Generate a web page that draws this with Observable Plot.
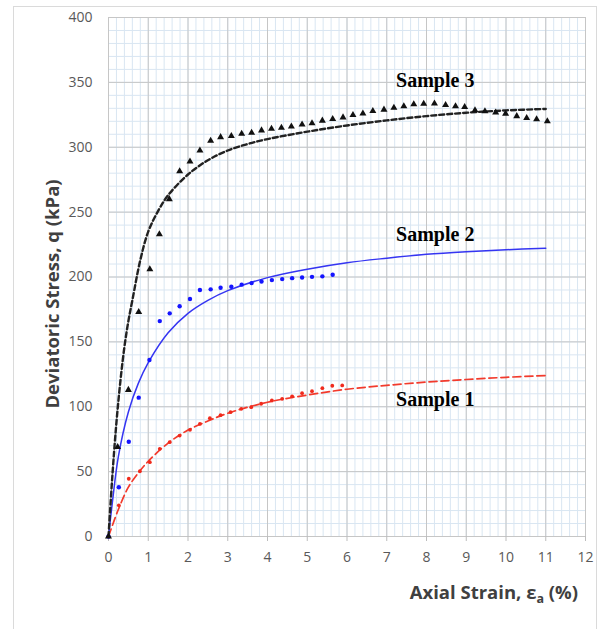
<!DOCTYPE html>
<html><head><meta charset="utf-8">
<script src="https://cdn.jsdelivr.net/npm/d3@7"></script>
<script src="https://cdn.jsdelivr.net/npm/@observablehq/plot@0.6"></script>
<style>
body{margin:0;background:#fff;}
#wrap{position:relative;width:599px;height:629px;overflow:hidden;}
#border{position:absolute;left:13px;top:6px;width:584px;height:660px;border:1.5px solid #dadada;box-sizing:border-box;}
#chart{position:absolute;left:0;top:0;}
</style></head><body><div id="wrap"><div id="border"></div><div id="chart"></div></div>
<script>
// Sample 1 (red) measured points
const s1Strain = [0,0.26,0.51,0.79,1.04,1.29,1.54,1.79,2.05,2.3,2.55,2.82,3.07,3.34,3.59,3.84,4.11,4.37,4.62,4.87,5.12,5.38,5.63,5.88];
const s1Stress = [0,24,44.5,50.3,57.3,67.6,72.7,77.8,82.2,86.8,91.2,93.5,95.8,98.4,99.7,102.3,104.8,106.1,108,110.5,112,114.3,116.2,116.4];
// Sample 1 fitted curve
const f1Strain = [0,0.25,0.5,0.75,1,1.5,2,2.5,3,4,5,6,7,8,9,10,11];
const f1Stress = [0,21,38,49,58,72,82,89,95,103.5,109,113.5,116.5,119,121,122.7,124];
// Sample 2 (blue) measured points
const s2Strain = [0,0.26,0.51,0.76,1.03,1.29,1.54,1.79,2.05,2.3,2.57,2.82,3.09,3.35,3.6,3.85,4.11,4.37,4.62,4.87,5.12,5.38,5.64];
const s2Stress = [0,38,73,107,136,166,172,177.5,183,190,190.5,191.7,192.5,194.1,195.3,196.5,197.6,198.4,199.1,199.6,200.1,200.5,201.7];
// Sample 2 fitted curve
const f2Strain = [0,0.1,0.25,0.5,0.75,1,1.5,2,2.5,3,4,5,6,7,8,9,10,11];
const f2Stress = [0,27,62,96,118,134,157,172,182,189.5,199.5,206,211,214.5,217.5,219.5,221,222.2];
// Sample 3 (black) measured points
const s3Strain = [0,0.23,0.5,0.76,1.04,1.28,1.53,1.79,2.05,2.3,2.57,2.82,3.09,3.35,3.6,3.85,4.1,4.35,4.6,4.87,5.12,5.38,5.64,5.9,6.15,6.4,6.65,6.93,7.18,7.43,7.68,7.93,8.2,8.48,8.73,8.96,9.22,9.47,9.74,9.99,10.27,10.52,10.77,11.04];
const s3Stress = [0,69,113,173,206,233,260,281.5,289,297.5,305,307.8,308.6,310.4,311.2,313,314.2,315,316,317.5,318.5,320.5,321.8,323,324.9,326,328,329,330.5,331.6,333.2,333.5,333.7,332.6,331.6,331,328.5,327.7,326.8,325.9,324,322.6,321.6,320];
// Sample 3 fitted curve
const f3Strain = [0,0.1,0.2,0.3,0.4,0.5,0.6,0.8,1,1.25,1.5,2,2.5,3,3.5,4,5,6,7,8,9,10,11];
const f3Stress = [0,48,88,120,146,166,182,213,235,251,263,279,290,297.5,302.5,306.3,312,316.8,320.7,324,326.6,328.4,329.5];
// Labels
const sampleNames = ["Sample 1","Sample 2","Sample 3"];
const sampleLabelX = [8.22,8.22,8.22];
const sampleLabelY = [105.2,233,351];
const xTicks = d3.range(0,13,1);
const yTicks = d3.range(0,401,50);
const xMinor = d3.range(0,60.5,1).map(d=>d/5);
const yMinor = d3.range(0,401,10);

const zip = (xs, ys) => xs.map((x,i)=>({x, y: ys[i]}));
const s1 = zip(s1Strain,s1Stress), f1 = zip(f1Strain,f1Stress);
const s2 = zip(s2Strain,s2Stress), f2 = zip(f2Strain,f2Stress);
const s3 = zip(s3Strain,s3Stress), f3 = zip(f3Strain,f3Stress);
const labels = sampleNames.map((t,i)=>({t, x: sampleLabelX[i], y: sampleLabelY[i]}));

const chart = Plot.plot({
  width: 599, height: 629,
  marginLeft: 108, marginRight: 14, marginTop: 17, marginBottom: 93,
  style: {fontFamily: "'Open Sans', sans-serif", background: "transparent"},
  x: {domain: [0,12]},
  y: {domain: [0,400]},
  marks: [
    Plot.gridX(xMinor, {stroke: "#d9e6f2", strokeOpacity: 1}),
    Plot.gridY(yMinor, {stroke: "#d9e6f2", strokeOpacity: 1}),
    Plot.gridX(xTicks, {stroke: "#c6c6c6", strokeOpacity: 1}),
    Plot.gridY(yTicks, {stroke: "#c6c6c6", strokeOpacity: 1}),
    Plot.axisX(xTicks, {tickSize: 5, tickPadding: 11, fontSize: 14, fill: "#595959", stroke: "#bdbdbd", label: null}),
    Plot.axisY(yTicks, {tickSize: 0, tickPadding: 16, fontSize: 14, fill: "#595959", label: null}),
    Plot.line(f1, {x: "x", y: "y", stroke: "#f23a2c", strokeWidth: 1.7, strokeDasharray: "8,4", curve: "catmull-rom"}),
    Plot.line(f2, {x: "x", y: "y", stroke: "#3535f2", strokeWidth: 1.5, curve: "catmull-rom"}),
    Plot.line(f3, {x: "x", y: "y", stroke: "#222", strokeWidth: 2.4, strokeDasharray: "5,3", curve: "catmull-rom"}),
    Plot.dot(s1, {x: "x", y: "y", r: 1.9, fill: "#f02a1c", symbol: "circle"}),
    Plot.dot(s2, {x: "x", y: "y", r: 2.2, fill: "#1515ff", symbol: "circle"}),
    Plot.dot(s3, {x: "x", y: "y", r: 2.6, fill: "#111", symbol: "triangle"}),
    Plot.text(labels, {x: "x", y: "y", text: "t", fontFamily: "'Liberation Serif', serif", fontWeight: "bold", fontSize: 20, fill: "#000", textAnchor: "middle", lineAnchor: "middle"})
  ]
});
document.getElementById("chart").appendChild(chart);

const svg = d3.select(chart);
svg.append("text")
  .attr("transform", "translate(59,294) rotate(-90)")
  .attr("text-anchor", "middle")
  .attr("font-family", "'Open Sans', sans-serif")
  .attr("font-weight", "bold")
  .attr("font-size", 18.5)
  .attr("fill", "#404040")
  .text("Deviatoric Stress, q (kPa)");
const xl = svg.append("text")
  .attr("x", 578).attr("y", 599)
  .attr("text-anchor", "end")
  .attr("font-family", "'Open Sans', sans-serif")
  .attr("font-weight", "bold")
  .attr("font-size", 18.5)
  .attr("fill", "#404040");
xl.append("tspan").text("Axial Strain, ε");
xl.append("tspan").attr("font-size", 12.5).attr("dy", 4).text("a");
xl.append("tspan").attr("dy", -4).text(" (%)");
</script>
</body></html>
